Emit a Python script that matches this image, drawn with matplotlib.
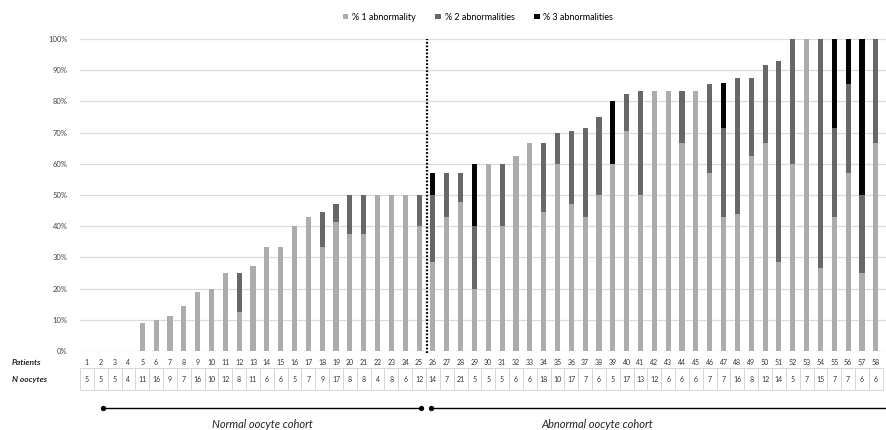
import matplotlib
matplotlib.use('Agg')
import matplotlib.pyplot as plt
import matplotlib.transforms as mtransforms
from matplotlib.patches import Patch, Rectangle
import numpy as np

plt.rcParams['font.family'] = ['Lato', 'DejaVu Sans']

# patient number and oocytes per patient (table under the bars)
patients = list(range(1, 59))
n_oocytes = [5, 5, 5, 4, 11, 16, 9, 7, 16, 10, 12, 8, 11, 6, 6, 5, 7, 9, 17, 8,
             8, 4, 8, 6, 12, 14, 7, 21, 5, 5, 5, 6, 6, 18, 10, 17, 7, 6, 5, 17,
             13, 12, 6, 6, 6, 7, 7, 16, 8, 12, 14, 5, 7, 15, 7, 7, 6, 6]

# % of oocytes with 1, 2, 3 abnormalities
pct_1 = [0, 0, 0, 0, 9.1, 10, 11.1, 14.3, 18.8, 20, 25, 12.5, 27.3, 33.3, 33.3,
         40, 42.9, 33.3, 41.2, 37.5, 37.5, 50, 50, 50, 40,
         28.6, 42.9, 47.6, 20, 60, 40, 62.5, 66.7, 44.4, 60, 47.1, 42.9, 50,
         60, 70.6, 50, 83.3, 83.3, 66.7, 83.3, 57.1, 42.9, 43.8, 62.5, 66.7,
         28.6, 60, 100, 26.7, 42.9, 57.1, 25, 66.7]
pct_2 = [0, 0, 0, 0, 0, 0, 0, 0, 0, 0, 0, 12.5, 0, 0, 0,
         0, 0, 11.1, 5.9, 12.5, 12.5, 0, 0, 0, 10,
         21.4, 14.3, 9.5, 20, 0, 20, 0, 0, 22.2, 10, 23.5, 28.6, 25,
         0, 11.8, 33.3, 0, 0, 16.7, 0, 28.6, 28.6, 43.7, 25, 25,
         64.3, 40, 0, 73.3, 28.6, 28.6, 25, 33.3]
pct_3 = [0] * 25 + [7.1, 0, 0, 20, 0, 0, 0, 0, 0, 0, 0, 0, 0,
                    20, 0, 0, 0, 0, 0, 0, 0, 14.3, 0, 0, 0,
                    0, 0, 0, 0, 28.6, 14.3, 50, 0]

series_labels = ['% 1 abnormality', '% 2 abnormalities', '% 3 abnormalities']
colors = ['#acacac', '#686868', '#050505']
yticks = list(range(0, 101, 10))
cohorts = ['Normal oocyte cohort', 'Abnormal oocyte cohort']
cohort_split = 25.55

W, H = 887, 430
fig = plt.figure(figsize=(W / 100, H / 100), dpi=100)
x0, x1 = 0.5, 59.5
unit_px = 13.84
ax = fig.add_axes([80 / W, 79 / H, (x1 - x0) * unit_px / W, 312 / H])

p1 = np.array(pct_1); p2 = np.array(pct_2); p3 = np.array(pct_3)
bw = 0.37
ax.bar(patients, p1, width=bw, color=colors[0], zorder=3)
ax.bar(patients, p2, width=bw, bottom=p1, color=colors[1], zorder=3)
ax.bar(patients, p3, width=bw, bottom=p1 + p2, color=colors[2], zorder=3)

ax.set_xlim(x0, x1)
ax.set_ylim(0, 100)
ax.set_yticks(yticks)
ax.set_yticklabels([f'{v}%' for v in yticks], fontsize=5.5, color='#444444')
ax.set_xticks([])
ax.tick_params(axis='y', length=0, pad=9)
ax.grid(axis='y', color='#dcdcdc', lw=0.9, zorder=0)
for s in ax.spines.values():
  s.set_visible(False)

ax.vlines(cohort_split, -0.5, 100, colors='black', lw=1.6,
          linestyles=(0, (0.8, 0.8)), zorder=4, clip_on=False)

# table under the chart
tr = mtransforms.blended_transform_factory(ax.transData, ax.transAxes)
trf = mtransforms.blended_transform_factory(fig.transFigure, ax.transAxes)
y_pat, y_cell_top, y_cell_bot = -0.036, -0.055, -0.125
for p, n in zip(patients, n_oocytes):
  ax.text(p, y_pat, str(p), transform=tr, ha='center', va='center',
          fontsize=5, color='#333333')
  ax.add_patch(Rectangle((p - 0.5, y_cell_bot), 1, y_cell_top - y_cell_bot,
                         transform=tr, fill=False, edgecolor='#d6d6d6',
                         lw=0.7, clip_on=False))
  ax.text(p, (y_cell_top + y_cell_bot) / 2, str(n), transform=tr,
          ha='center', va='center', fontsize=5, color='#333333')
ax.text(12 / W, y_pat, 'Patients', transform=trf, ha='left', va='center',
        fontsize=6, style='italic', weight='bold', color='#222222')
ax.text(12 / W, (y_cell_top + y_cell_bot) / 2, 'N oocytes', transform=trf,
        ha='left', va='center', fontsize=6, style='italic', weight='bold',
        color='#222222')

# cohort arrows
y_arr = -0.183
ax.plot([2.16, 25.14], [y_arr, y_arr], transform=tr, color='black', lw=1,
        marker='o', ms=2.8, clip_on=False)
ax.plot([25.86, 62], [y_arr, y_arr], transform=tr, color='black', lw=1,
        marker='o', ms=2.8, markevery=[0], clip_on=False)
ax.text(262 / W, -0.235, cohorts[0], transform=trf, ha='center', va='center',
        fontsize=8, style='italic', color='#222222')
ax.text(597 / W, -0.235, cohorts[1], transform=trf, ha='center', va='center',
        fontsize=8, style='italic', color='#222222')

handles = [Patch(facecolor=c, edgecolor='none') for c in colors]
fig.legend(handles, series_labels, loc='center', bbox_to_anchor=(478 / W, 0.96),
           ncol=3, frameon=False, fontsize=6.5, handlelength=0.6,
           handleheight=0.6, handletextpad=0.4, columnspacing=2.2)

fig.savefig('out.png', dpi=100)
